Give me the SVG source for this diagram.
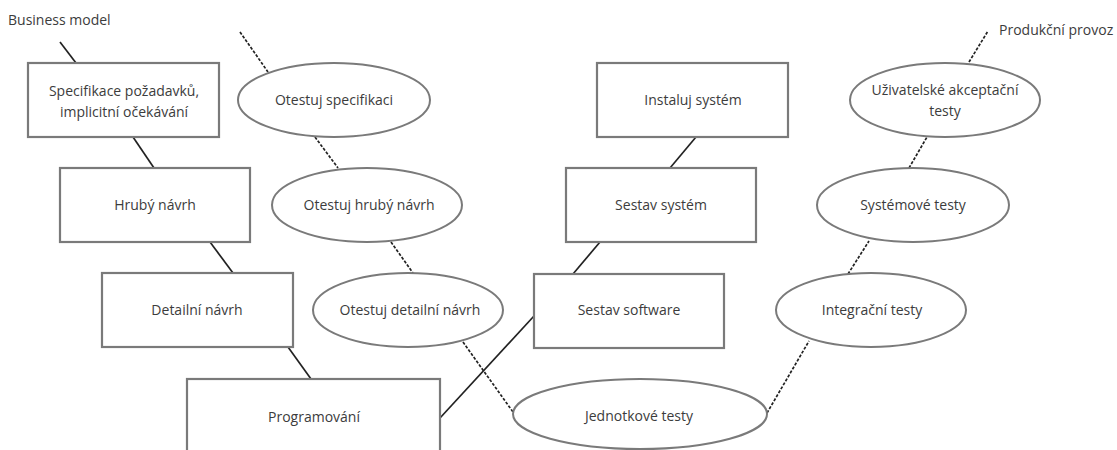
<svg xmlns="http://www.w3.org/2000/svg" width="1117" height="450" viewBox="0 0 1117 450">
  <style>
    .box { fill: #ffffff; stroke: #7a7a7a; stroke-width: 2.2; }
    .oval { fill: #ffffff; stroke: #7a7a7a; stroke-width: 2; }
    .lbl { font-family: "Open Sans", "Noto Sans", sans-serif; font-size: 14px; fill: #3c3c3c; text-anchor: middle; }
    .free { font-family: "Open Sans", "Noto Sans", sans-serif; font-size: 14px; fill: #3c3c3c; }
    .solid { stroke: #222222; stroke-width: 1.7; fill: none; }
    .dash { stroke: #222222; stroke-width: 1.7; fill: none; stroke-dasharray: 3 1.6; }
  </style>
  <rect width="1117" height="450" fill="#ffffff"/>

  <!-- connectors -->
  <g id="connectors">
    <line class="solid" x1="60" y1="42" x2="76" y2="63"/>
    <line class="solid" x1="133" y1="137" x2="154" y2="168"/>
    <line class="solid" x1="210" y1="242" x2="233" y2="273"/>
    <line class="solid" x1="288" y1="347" x2="311" y2="379"/>
    <line class="solid" x1="440" y1="418" x2="534" y2="316"/>
    <line class="solid" x1="573" y1="274" x2="600" y2="242"/>
    <line class="solid" x1="670" y1="168" x2="696" y2="137"/>
    <line class="dash" x1="240" y1="32" x2="268" y2="72"/>
    <line class="dash" x1="315" y1="137" x2="338" y2="168"/>
    <line class="dash" x1="391" y1="242" x2="413" y2="273"/>
    <line class="dash" x1="463" y1="342" x2="513" y2="412"/>
    <line class="dash" x1="767" y1="413" x2="809" y2="341"/>
    <line class="dash" x1="848" y1="274" x2="869" y2="241"/>
    <line class="dash" x1="909" y1="168" x2="927" y2="137"/>
    <line class="dash" x1="969" y1="62" x2="988" y2="31"/>
  </g>

  <!-- free labels -->
  <text id="business-model" class="free" x="8" y="25">Business model</text>
  <text id="produkcni-provoz" class="free" x="999" y="35">Produkční provoz</text>

  <!-- left branch: specification and design -->
  <g id="specifikace">
    <rect class="box" x="28" y="63" width="191" height="74"/>
    <text class="lbl" x="124" y="96">Specifikace požadavků,</text>
    <text class="lbl" x="124" y="117">implicitní očekávání</text>
  </g>
  <g id="hruby-navrh">
    <rect class="box" x="60" y="168" width="190" height="74"/>
    <text class="lbl" x="155" y="210">Hrubý návrh</text>
  </g>
  <g id="detailni-navrh">
    <rect class="box" x="102" y="273" width="191" height="74"/>
    <text class="lbl" x="197" y="315">Detailní návrh</text>
  </g>
  <g id="programovani">
    <rect class="box" x="187" y="379" width="253" height="76"/>
    <text class="lbl" x="314" y="422">Programování</text>
  </g>

  <!-- test design ovals -->
  <g id="otestuj-specifikaci">
    <ellipse class="oval" cx="334" cy="100" rx="96" ry="37"/>
    <text class="lbl" x="334" y="105">Otestuj specifikaci</text>
  </g>
  <g id="otestuj-hruby-navrh">
    <ellipse class="oval" cx="367" cy="205" rx="95" ry="37"/>
    <text class="lbl" x="369" y="210">Otestuj hrubý návrh</text>
  </g>
  <g id="otestuj-detailni-navrh">
    <ellipse class="oval" cx="408" cy="310" rx="95" ry="37"/>
    <text class="lbl" x="410" y="315">Otestuj detailní návrh</text>
  </g>

  <!-- right branch: assembly -->
  <g id="sestav-software">
    <rect class="box" x="534" y="274" width="190" height="74"/>
    <text class="lbl" x="629" y="315">Sestav software</text>
  </g>
  <g id="sestav-system">
    <rect class="box" x="566" y="168" width="190" height="74"/>
    <text class="lbl" x="661" y="210">Sestav systém</text>
  </g>
  <g id="instaluj-system">
    <rect class="box" x="597" y="63" width="191" height="74"/>
    <text class="lbl" x="693" y="105">Instaluj systém</text>
  </g>

  <!-- test execution ovals -->
  <g id="jednotkove-testy">
    <ellipse class="oval" cx="640" cy="414" rx="127" ry="35"/>
    <text class="lbl" x="639" y="421">Jednotkové testy</text>
  </g>
  <g id="integracni-testy">
    <ellipse class="oval" cx="871" cy="310" rx="95" ry="37"/>
    <text class="lbl" x="872" y="315">Integrační testy</text>
  </g>
  <g id="systemove-testy">
    <ellipse class="oval" cx="913" cy="205" rx="96" ry="37"/>
    <text class="lbl" x="913" y="210">Systémové testy</text>
  </g>
  <g id="akceptacni-testy">
    <ellipse class="oval" cx="945" cy="100" rx="95" ry="37"/>
    <text class="lbl" x="945" y="95">Uživatelské akceptační</text>
    <text class="lbl" x="945" y="116">testy</text>
  </g>
</svg>
